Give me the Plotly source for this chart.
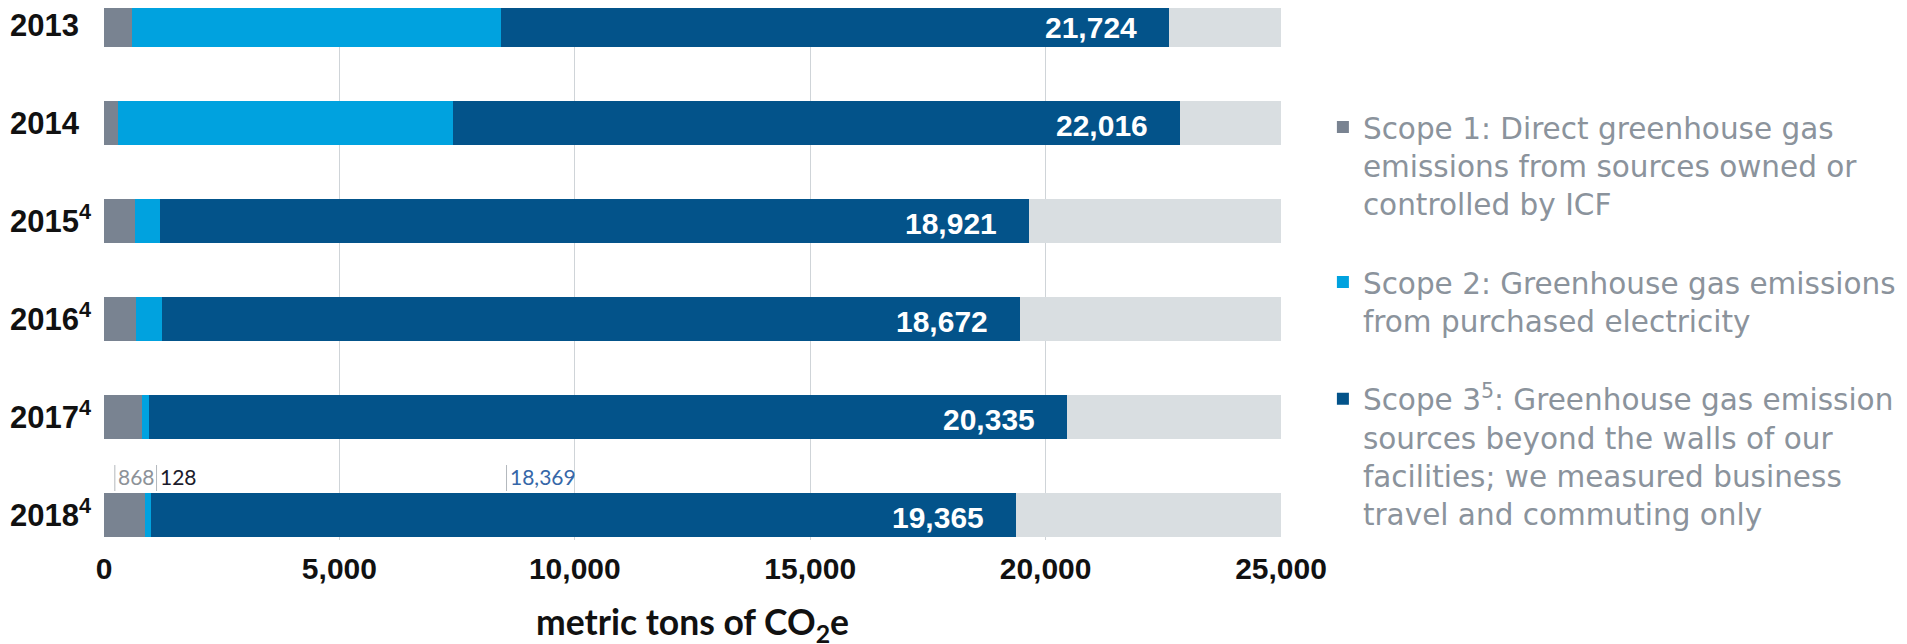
import plotly.graph_objects as go

# ---------------- data ----------------
years = ["2013", "2014", "2015", "2016", "2017", "2018"]
footnotes = ["", "", "4", "4", "4", "4"]
scope1 = [590, 300, 655, 680, 810, 868]          # Direct emissions
scope2 = [7840, 7110, 530, 545, 140, 128]        # Purchased electricity
scope3 = [14200, 15450, 18470, 18240, 19510, 18369]  # Business travel & commuting
total_labels = ["21,724", "22,016", "18,921", "18,672", "20,335", "19,365"]
detail_labels_2018 = ["868", "128", "18,369"]

axis_max = 25000
x_tick_values = [0, 5000, 10000, 15000, 20000, 25000]
x_tick_labels = ["0", "5,000", "10,000", "15,000", "20,000", "25,000"]

legend_names = [
    "Scope 1: Direct greenhouse gas<br>emissions from sources owned or<br>controlled by ICF",
    "Scope 2: Greenhouse gas emissions<br>from purchased electricity",
    "Scope 3<sup>5</sup>: Greenhouse gas emission<br>sources beyond the walls of our<br>facilities; we measured business<br>travel and commuting only",
]

# ---------------- style ----------------
C_S1 = "#798391"
C_S2 = "#00a2df"
C_S3 = "#03538a"
C_TRACK = "#d9dee1"
C_GRID = "#cfd4d8"
C_LEG = "#8b939c"
BOLD = "Liberation Sans"

totals = [a + b + c for a, b, c in zip(scope1, scope2, scope3)]
track = [axis_max - t for t in totals]

fig = go.Figure()
for vals, col, name, grp in [
    (scope1, C_S1, legend_names[0], "g1"),
    (scope2, C_S2, legend_names[1], "g2"),
    (scope3, C_S3, legend_names[2], "g3"),
]:
    fig.add_trace(go.Bar(
        y=years, x=vals, orientation="h", name=name, legendgroup=grp,
        marker=dict(color=col, line=dict(width=0)), hoverinfo="x+name",
    ))
fig.add_trace(go.Bar(
    y=years, x=track, orientation="h", name="remaining", showlegend=False,
    marker=dict(color=C_TRACK, line=dict(width=0)), hoverinfo="skip",
))

# total labels inside the dark bars (category serial numbers on y)
for i, (tot, lab) in enumerate(zip(totals, total_labels)):
    fig.add_annotation(
        x=tot, y=i, xref="x", yref="y", text=lab, showarrow=False,
        xanchor="right", yanchor="middle", xshift=-30, yshift=-2,
        font=dict(family=BOLD, size=30, color="white", weight="bold"),
    )

# 2018 detail labels with leader lines
li = len(years) - 1
detail_x = [230, scope1[-1] + scope2[-1] + 120, 8550]
detail_colors = ["#8d9298", "#1b1b2b", "#3667a8"]
for xv, lab, col in zip(detail_x, detail_labels_2018, detail_colors):
    fig.add_shape(type="line", xref="x", yref="y", x0=xv, x1=xv,
                  y0=li - 0.51, y1=li - 0.245,
                  line=dict(color="#b3b8bd", width=1))
    fig.add_annotation(
        x=xv, y=li, xref="x", yref="y", text=lab, showarrow=False,
        xanchor="left", yanchor="middle", xshift=1, yshift=39,
        font=dict(family="Lato", size=21, color=col),
    )

ticktext = [
    (y + "<sup>" + f + "</sup>") if f else (y + "<sup>\u00a0\u00a0</sup>")
    for y, f in zip(years, footnotes)
]

fig.update_layout(
    width=1907, height=644,
    margin=dict(l=96, r=634, t=0, b=112, autoexpand=False),
    barmode="stack", bargap=0.55,
    plot_bgcolor="white", paper_bgcolor="white",
    showlegend=True,
    xaxis=dict(
        range=[0, axis_max], tickvals=x_tick_values, ticktext=x_tick_labels,
        showgrid=True, gridcolor=C_GRID, gridwidth=1, zeroline=False,
        showline=False, ticks="", ticklabelstandoff=8,
        tickfont=dict(family=BOLD, size=30, color="#111111", weight="bold"),
        title=dict(text="metric tons of CO<sub>2</sub>e", standoff=26,
                   font=dict(family="Lato", size=35.5, color="#111111", weight="bold")),
    ),
    yaxis=dict(
        type="category", categoryorder="array", categoryarray=years,
        range=[5.255, -0.1735], tickvals=years, ticktext=ticktext,
        showgrid=False, zeroline=False, showline=False, ticks="",
        ticklabelstandoff=12,
        tickfont=dict(family=BOLD, size=31, color="#111111", weight="bold"),
    ),
    legend=dict(
        x=1.0356, xanchor="left", y=0.8245, yanchor="top",
        traceorder="grouped", tracegroupgap=37, valign="top",
        font=dict(family="DejaVu Sans", size=29.5, color=C_LEG),
        bgcolor="rgba(0,0,0,0)",
    ),
)

fig.write_html("out.html")
